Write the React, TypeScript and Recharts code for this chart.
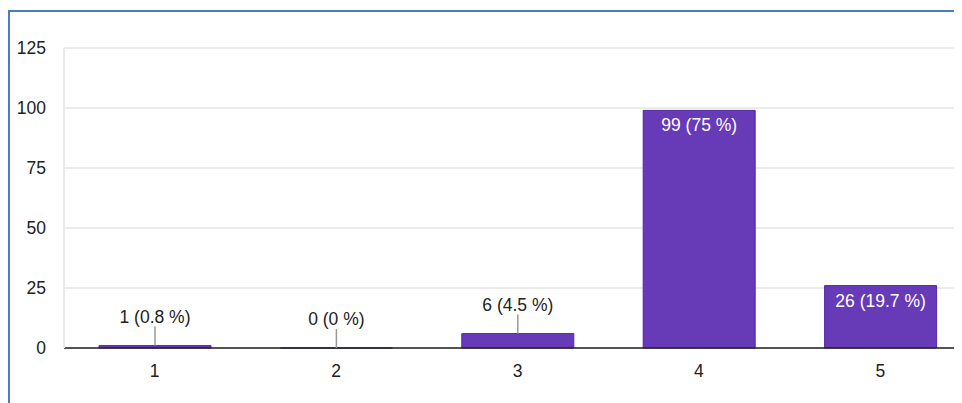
import React from 'react';
import { BarChart, Bar, XAxis, YAxis, CartesianGrid, LabelList } from 'recharts';

const ratings = ['1', '2', '3', '4', '5'];
const responses = [1, 0, 6, 99, 26];
const shares = ['0.8', '0', '4.5', '75', '19.7'];
const yTicks = [0, 25, 50, 75, 100, 125];

const rows = ratings.map((rating, i) => ({
  rating,
  count: responses[i],
  label: `${responses[i]} (${shares[i]} %)`,
}));

const FONT = '"Liberation Sans", Arial, sans-serif';

// tall bars carry their label inside, short ones get a leader line and the label above
function BarLabel(props: any) {
  const { x, y, width, height, value } = props;
  const cx = x + width / 2;
  if (height > 40) {
    return (
      <text x={cx} y={y + 15} fill="#fff" fontSize={17.5} fontFamily={FONT} textAnchor="middle" dominantBaseline="central">
        {value}
      </text>
    );
  }
  return (
    <g>
      <line x1={cx} x2={cx} y1={y} y2={y - 19} stroke="#999" strokeWidth={1.5} />
      <text x={cx} y={y - 29} fill="#222" fontSize={17.5} fontFamily={FONT} textAnchor="middle" dominantBaseline="central">
        {value}
      </text>
    </g>
  );
}

// a zero count still needs a (hairline) rectangle so its label gets placed
const minHeight = (value: any) => (value === 0 ? 0.01 : 0);

export default function App() {
  return (
    <div style={{ paddingTop: 2 }}>
      <div
        style={{
          width: 954,
          height: 393,
          overflow: 'hidden',
          borderLeft: '2px solid #4a7ebb',
          borderTop: '2px solid #4a7ebb',
          boxSizing: 'border-box',
          background: '#fff',
        }}
      >
        <BarChart
          width={961}
          height={390}
          data={rows}
          margin={{ top: 36, right: 0, left: 8, bottom: 10 }}
          barSize={112}
        >
          <CartesianGrid vertical={false} stroke="#ebebeb" strokeWidth={2} />
          <XAxis
            dataKey="rating"
            tickLine={false}
            tickSize={0}
            tickMargin={17}
            axisLine={{ stroke: '#222', strokeWidth: 1.5 }}
            tick={{ fill: '#222', fontSize: 17.5, fontFamily: FONT }}
            height={44}
          />
          <YAxis
            domain={[0, 125]}
            ticks={yTicks}
            width={46}
            tickLine={false}
            tickSize={0}
            tickMargin={18}
            axisLine={{ stroke: '#ebebeb', strokeWidth: 2 }}
            tick={{ fill: '#222', fontSize: 17.5, fontFamily: FONT }}
          />
          <Bar
            dataKey="count"
            fill="#673ab7"
            stroke="#5328a0"
            strokeWidth={1}
            minPointSize={minHeight}
            isAnimationActive={false}
          >
            <LabelList dataKey="label" content={<BarLabel />} />
          </Bar>
        </BarChart>
      </div>
    </div>
  );
}
